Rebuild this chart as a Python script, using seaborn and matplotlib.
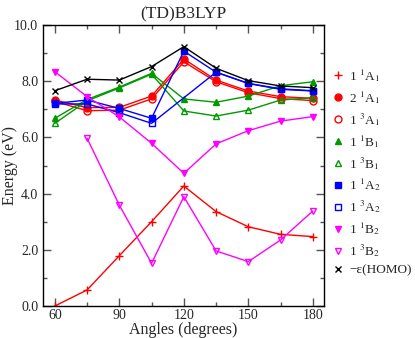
import numpy as np
import pandas as pd
import matplotlib
matplotlib.use("Agg")
import matplotlib.pyplot as plt
from matplotlib.ticker import MultipleLocator, FormatStrFormatter
import seaborn as sns

angles = [60, 75, 90, 105, 120, 135, 150, 165, 180]

a1_1 = [0.0, 0.57, 1.79, 3.0, 4.27, 3.36, 2.82, 2.55, 2.47]
a1_2 = [7.33, 7.06, 7.07, 7.47, 8.79, 8.04, 7.65, 7.45, 7.39]
a1_3 = [7.28, 6.95, 6.97, 7.37, 8.69, 7.98, 7.59, 7.38, 7.31]
b1_1 = [6.68, 7.35, 7.79, 8.28, 7.37, 7.25, 7.47, 7.84, 7.98]
b1_3 = [6.50, 7.30, 7.76, 8.25, 6.94, 6.76, 6.97, 7.33, 7.41]
a2_1 = [7.21, 7.33, 7.03, 6.68, 9.07, 8.32, 7.92, 7.73, 7.66]
a2_3 = [7.19, 7.19, 6.88, 6.50, np.nan, 8.32, 7.92, 7.71, 7.65]
b2_1 = [8.34, 7.45, 6.73, 5.79, 4.72, 5.77, 6.24, 6.58, 6.74]
b2_3 = [np.nan, 5.97, 3.59, 1.52, 3.89, 1.96, 1.58, 2.35, 3.38]
homo = [7.66, 8.07, 8.04, 8.52, 9.23, 8.46, 8.02, 7.83, 7.77]

labels = [r"1 $^{1}$A$_{1}$", r"2 $^{1}$A$_{1}$", r"1 $^{3}$A$_{1}$",
          r"1 $^{1}$B$_{1}$", r"1 $^{3}$B$_{1}$", r"1 $^{1}$A$_{2}$",
          r"1 $^{3}$A$_{2}$", r"1 $^{1}$B$_{2}$", r"1 $^{3}$B$_{2}$",
          "\u2212\u03b5(HOMO)"]
series = [a1_1, a1_2, a1_3, b1_1, b1_3, a2_1, a2_3, b2_1, b2_3, homo]

RED, GREEN, BLUE, MAG = "#ff0000", "#009a00", "#0000ff", "#ff00ff"
styles = [
    dict(color=RED, marker="+", filled=True, ms=6),
    dict(color=RED, marker="o", filled=True, ms=5),
    dict(color=RED, marker="o", filled=False, ms=5),
    dict(color=GREEN, marker="^", filled=True, ms=5),
    dict(color=GREEN, marker="^", filled=False, ms=5),
    dict(color=BLUE, marker="s", filled=True, ms=4.5),
    dict(color=BLUE, marker="s", filled=False, ms=4.5),
    dict(color=MAG, marker="v", filled=True, ms=5),
    dict(color=MAG, marker="v", filled=False, ms=5),
    dict(color="black", marker="x", filled=True, ms=4),
]

sns.set_style("ticks")
plt.rcParams["font.family"] = ["Liberation Serif", "DejaVu Serif"]
plt.rcParams["mathtext.fontset"] = "stix"

fig = plt.figure(figsize=(4.15, 3.38), dpi=100)
ax = fig.add_axes([43/415, 1-306/338, (324-43)/415, (306-25)/338])

for vals, lab, st in zip(series, labels, styles):
    df = pd.DataFrame({"angle": angles, "E": vals}).dropna()
    sns.lineplot(data=df, x="angle", y="E", ax=ax, color=st["color"],
                 marker=st["marker"], markersize=st["ms"],
                 markeredgecolor=st["color"], markeredgewidth=1.0,
                 markerfacecolor=st["color"] if st["filled"] else "none",
                 linewidth=1.0, label=lab, estimator=None, sort=False)

ax.set_xlim(54.5, 185.2)
ax.set_ylim(0, 10)
ax.xaxis.set_major_locator(MultipleLocator(30))
ax.xaxis.set_minor_locator(MultipleLocator(15))
ax.yaxis.set_major_locator(MultipleLocator(2))
ax.yaxis.set_minor_locator(MultipleLocator(1))
ax.yaxis.set_major_formatter(FormatStrFormatter("%.1f"))
ax.tick_params(which="both", direction="in", top=True, right=True,
               labelsize=10, color="#555555", width=1)
ax.tick_params(which="major", length=6)
ax.tick_params(which="minor", length=3)
ax.tick_params(axis="x", pad=2.5)
for sp in ax.spines.values():
    sp.set_linewidth(1.0)
    sp.set_color("black")

ax.set_xlabel("Angles (degrees)", fontsize=11.5)
ax.set_ylabel("Energy (eV)", fontsize=11.5)
ax.xaxis.set_label_coords((183-43)/281, -(330-306)/281, transform=ax.transAxes)
ax.xaxis.label.set_verticalalignment("center")
ax.yaxis.set_label_coords(-(43-10)/281, 0.5, transform=ax.transAxes)
ax.yaxis.label.set_verticalalignment("center")
ax.set_title("(TD)B3LYP", fontsize=12.5, pad=5)

ax.legend(loc="upper left", bbox_to_anchor=(333/415, 1-67/338),
          bbox_transform=fig.transFigure, frameon=False,
          fontsize=9.5, handlelength=0.8, handletextpad=0.45,
          labelspacing=0.38, borderaxespad=0.0, borderpad=0.0)
for line in ax.get_legend().get_lines():
    line.set_linestyle("none")

fig.savefig("out.png", dpi=100)
